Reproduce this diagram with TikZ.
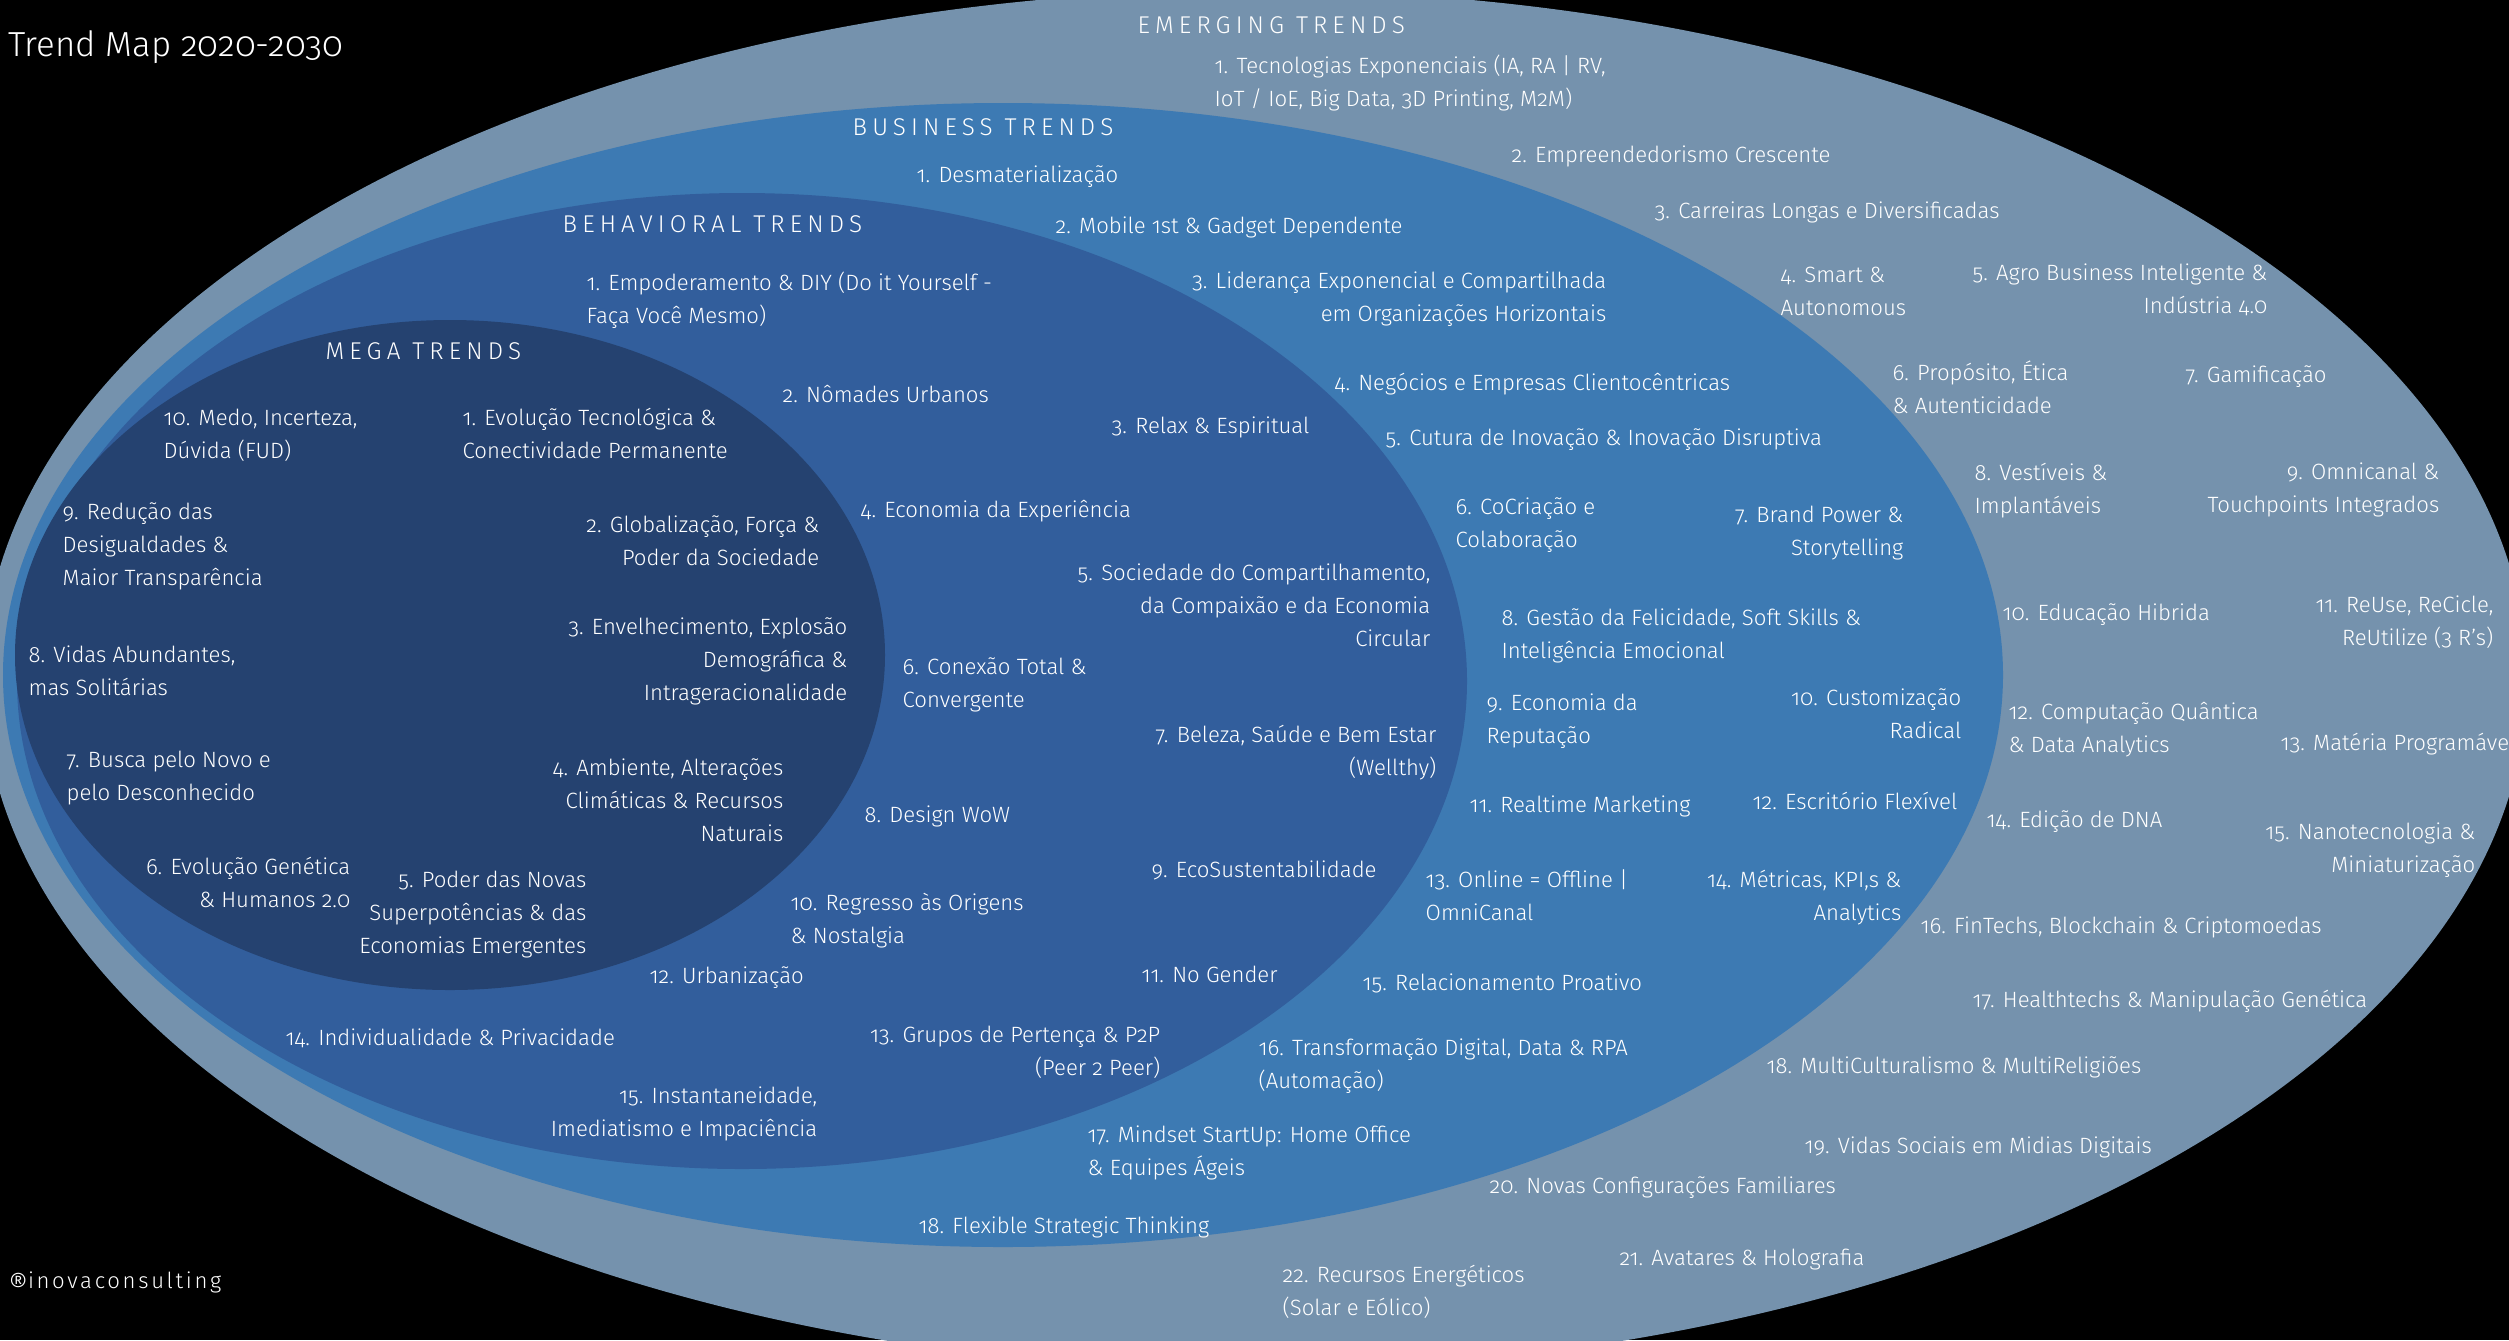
\documentclass[tikz,border=0pt]{standalone}
\usepackage{fontspec}
\IfFontExistsTF{Fira Sans Light}{\setmainfont{Fira Sans Light}[Numbers=OldStyle]}{\setmainfont{Fira Sans}[Numbers=OldStyle]}
\definecolor{emergc}{HTML}{7592AD}
\definecolor{busc}{HTML}{3D7AB3}
\definecolor{behc}{HTML}{325E9C}
\definecolor{megac}{HTML}{254270}
\newcommand\bodyfont{\fontsize{6.3}{9.4}\selectfont}
\newcommand\hdrfont{\fontsize{6.9}{9.4}\selectfont\addfontfeatures{LetterSpace=21}}
\newcommand\ttlfont{\fontsize{9.9}{12}\selectfont}
\newcommand\cpyfont{\fontsize{6.3}{9.4}\selectfont\addfontfeatures{LetterSpace=12}}
\newcommand\tst{\vrule height 7pt depth 0pt width 0pt}
\newcommand\regmark{{\fontsize{8.6}{9}\selectfont\raisebox{-0.45ex}{®}}}
\begin{document}
\begin{tikzpicture}[x=0.1mm,y=-0.1mm,
  base/.style={text=white, inner sep=0pt, yshift=7pt, execute at begin node=\tst},
  lt/.style={base, font=\bodyfont, align=left, anchor=north west},
  rt/.style={base, font=\bodyfont, align=right, anchor=north east},
  hdr/.style={base, font=\hdrfont, anchor=north west},
  ttl/.style={base, font=\ttlfont, anchor=north west},
  cpy/.style={base, font=\cpyfont, anchor=north west}]
\useasboundingbox (0,0) rectangle (2509,1340);
\fill[black] (0,0) rectangle (2509,1340);
\clip (0,0) rectangle (2509,1340);
% rings
\fill[emergc] (1255,680) ellipse [x radius=1272, y radius=690];
\fill[busc] (1003,675) ellipse [x radius=1000, y radius=572];
\fill[behc] (742,681) ellipse [x radius=725, y radius=488];
\fill[megac] (450,655) ellipse [x radius=435, y radius=335];
% title and credit
\node[ttl] (title) at (8,55) {Trend Map 2020-2030};
\node[cpy] (credit) at (8,1288) {\regmark inovaconsulting};
% headers
\node[hdr] (hE) at (1137,33) {EMERGING TRENDS};
\node[hdr] (hB) at (852,135) {BUSINESS TRENDS};
\node[hdr] (hH) at (562,232) {BEHAVIORAL TRENDS};
\node[hdr] (hM) at (325,359) {MEGA TRENDS};
% emerging
\node[lt] (e1) at (1214,73) {\tst 1. Tecnologias Exponenciais (IA, RA | RV,\\IoT / IoE, Big Data, 3D Printing, M2M)};
\node[lt] (e2) at (1511,162) {2. Empreendedorismo Crescente};
\node[lt] (e3) at (1654,218) {3. Carreiras Longas e Diversificadas};
\node[lt] (e4) at (1780,282) {\tst 4. Smart \&\\Autonomous};
\node[rt] (e5) at (2268,280) {\tst 5. Agro Business Inteligente \&\\Indústria 4.0};
\node[lt] (e6) at (1892,380) {\tst 6. Propósito, Ética\\\& Autenticidade};
\node[lt] (e7) at (2185,382) {7. Gamificação};
\node[lt] (e8) at (1974,480) {\tst 8. Vestíveis \&\\Implantáveis};
\node[rt] (e9) at (2440,479) {\tst 9. Omnicanal \&\\Touchpoints Integrados};
\node[lt] (e10) at (2002,620) {10. Educação Hibrida};
\node[rt] (e11) at (2494,612) {\tst 11. ReUse, ReCicle,\\ReUtilize (3 R's)};
\node[lt] (e12) at (2008,719) {\tst 12. Computação Quântica\\\& Data Analytics};
\node[lt] (e13) at (2280,750) {13. Matéria Programável};
\node[lt] (e14) at (1986,827) {14. Edição de DNA};
\node[rt] (e15) at (2476,839) {\tst 15. Nanotecnologia \&\\Miniaturização};
\node[lt] (e16) at (1920,933) {16. FinTechs, Blockchain \& Criptomoedas};
\node[lt] (e17) at (1972,1007) {17. Healthtechs \& Manipulação Genética};
\node[lt] (e18) at (1766,1073) {18. MultiCulturalismo \& MultiReligiões};
\node[lt] (e19) at (1804,1153) {19. Vidas Sociais em Midias Digitais};
\node[lt] (e20) at (1489,1193) {20. Novas Configurações Familiares};
\node[lt] (e21) at (1619,1265) {21. Avatares \& Holografia};
\node[lt] (e22) at (1282,1282) {\tst 22. Recursos Energéticos\\(Solar e Eólico)};
% business
\node[lt] (b1) at (916,182) {1. Desmaterialização};
\node[lt] (b2) at (1055,233) {2. Mobile 1st \& Gadget Dependente};
\node[rt] (b3) at (1607,288) {\tst 3. Liderança Exponencial e Compartilhada\\em Organizações Horizontais};
\node[lt] (b4) at (1334,390) {4. Negócios e Empresas Clientocêntricas};
\node[lt] (b5) at (1385,445) {5. Cutura de Inovação \& Inovação Disruptiva};
\node[lt] (b6) at (1455,514) {\tst 6. CoCriação e\\Colaboração};
\node[rt] (b7) at (1904,522) {\tst 7. Brand Power \&\\Storytelling};
\node[lt] (b8) at (1501,625) {\tst 8. Gestão da Felicidade, Soft Skills \&\\Inteligência Emocional};
\node[lt] (b9) at (1486,710) {\tst 9. Economia da\\Reputação};
\node[rt] (b10) at (1962,705) {\tst 10. Customização\\Radical};
\node[lt] (b11) at (1469,812) {11. Realtime Marketing};
\node[lt] (b12) at (1752,809) {12. Escritório Flexível};
\node[lt] (b13) at (1425,887) {\tst 13. Online = Offline |\\OmniCanal};
\node[rt] (b14) at (1902,887) {\tst 14. Métricas, KPI,s \&\\Analytics};
\node[lt] (b15) at (1362,990) {15. Relacionamento Proativo};
\node[lt] (b16) at (1258,1055) {\tst 16. Transformação Digital, Data \& RPA\\(Automação)};
\node[lt] (b17) at (1087,1142) {\tst 17. Mindset StartUp: Home Office\\\& Equipes Ágeis};
\node[lt] (b18) at (918,1233) {18. Flexible Strategic Thinking};
% behavioral
\node[lt] (h1) at (586,290) {\tst 1. Empoderamento \& DIY (Do it Yourself -\\Faça Você Mesmo)};
\node[lt] (h2) at (782,402) {2. Nômades Urbanos};
\node[lt] (h3) at (1111,433) {3. Relax \& Espiritual};
\node[lt] (h4) at (860,517) {4. Economia da Experiência};
\node[rt] (h5) at (1431,580) {\tst 5. Sociedade do Compartilhamento,\\da Compaixão e da Economia\\Circular};
\node[lt] (h6) at (902,674) {\tst 6. Conexão Total \&\\Convergente};
\node[rt] (h7) at (1437,742) {\tst 7. Beleza, Saúde e Bem Estar\\(Wellthy)};
\node[lt] (h8) at (864,822) {8. Design WoW};
\node[lt] (h9) at (1151,877) {9. EcoSustentabilidade};
\node[lt] (h10) at (790,910) {\tst 10. Regresso às Origens\\\& Nostalgia};
\node[lt] (h11) at (1141,982) {11. No Gender};
\node[lt] (h12) at (649,983) {12. Urbanização};
\node[rt] (h13) at (1161,1042) {\tst 13. Grupos de Pertença \& P2P\\(Peer 2 Peer)};
\node[lt] (h14) at (285,1045) {14. Individualidade \& Privacidade};
\node[rt] (h15) at (818,1103) {\tst 15. Instantaneidade,\\Imediatismo e Impaciência};
% mega
\node[lt] (m1) at (462,425) {\tst 1. Evolução Tecnológica \&\\Conectividade Permanente};
\node[rt] (m2) at (820,532) {\tst 2. Globalização, Força \&\\Poder da Sociedade};
\node[rt] (m3) at (848,634) {\tst 3. Envelhecimento, Explosão\\Demográfica \&\\Intrageracionalidade};
\node[rt] (m4) at (784,775) {\tst 4. Ambiente, Alterações\\Climáticas \& Recursos\\Naturais};
\node[rt] (m5) at (587,887) {\tst 5. Poder das Novas\\Superpotências \& das\\Economias Emergentes};
\node[rt] (m6) at (351,874) {\tst 6. Evolução Genética\\\& Humanos 2.0};
\node[lt] (m7) at (66,767) {\tst 7. Busca pelo Novo e\\pelo Desconhecido};
\node[lt] (m8) at (28,662) {\tst 8. Vidas Abundantes,\\mas Solitárias};
\node[lt] (m9) at (62,519) {\tst 9. Redução das\\Desigualdades \&\\Maior Transparência};
\node[lt] (m10) at (163,425) {\tst 10. Medo, Incerteza,\\Dúvida (FUD)};
\end{tikzpicture}
\end{document}
